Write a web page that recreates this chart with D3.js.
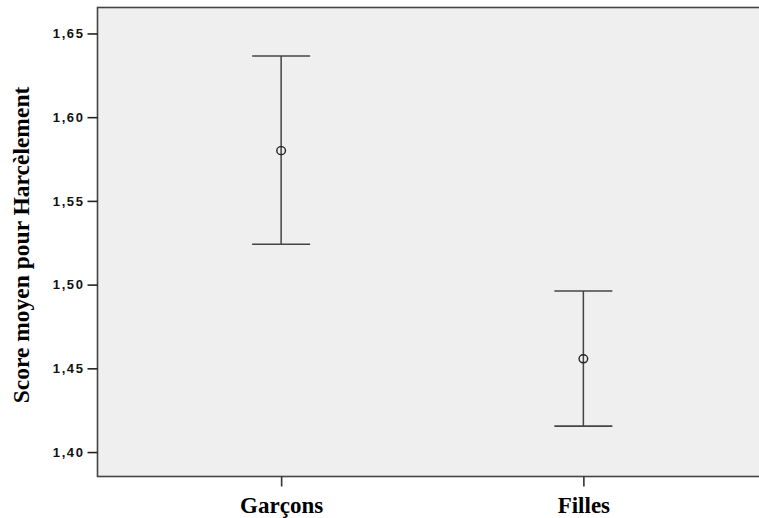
<!DOCTYPE html>
<html>
<head>
<meta charset="utf-8">
<script src="https://cdn.jsdelivr.net/npm/d3@7.9.0/dist/d3.min.js"></script>
<style>
  body { margin: 0; background: #fff; }
  svg { display: block; }
</style>
</head>
<body>
<svg id="chart" width="759" height="518"></svg>
<script>
const groups = ["Garçons", "Filles"];
const means = [1.580, 1.4557];
const lower = [1.5241, 1.4155];
const upper = [1.6365, 1.4962];
const yTicks = [1.40, 1.45, 1.50, 1.55, 1.60, 1.65];
const yTitle = "Score moyen pour Harcèlement";

const width = 759;
const height = 518;
const margin = { top: 7.5, right: -8, bottom: 41.5, left: 97.5 };

const svg = d3.select("#chart");

const x = d3
  .scalePoint()
  .domain(groups)
  .range([margin.left, width - margin.right])
  .padding(0.6076);

const y = d3
  .scaleLinear()
  .domain([1.3854, 1.6655])
  .range([height - margin.bottom, margin.top]);

const rows = groups.map((g, i) => ({
  group: g,
  mean: means[i],
  lo: lower[i],
  hi: upper[i],
}));

// plot background
svg
  .append("rect")
  .attr("x", margin.left)
  .attr("y", margin.top)
  .attr("width", width - margin.right - margin.left)
  .attr("height", height - margin.bottom - margin.top)
  .attr("fill", "#efefef")
  .attr("stroke", "#444")
  .attr("stroke-width", 1.6);

// y axis
const yAxis = svg
  .append("g")
  .attr("transform", `translate(${margin.left},0)`)
  .call(
    d3
      .axisLeft(y)
      .tickValues(yTicks)
      .tickSize(10)
      .tickPadding(3)
      .tickFormat((d) => d3.format(".2f")(d).replace(".", ","))
  );
yAxis.select(".domain").remove();
yAxis.selectAll(".tick line").attr("stroke", "#222").attr("stroke-width", 1.6);
yAxis
  .selectAll(".tick text")
  .attr("fill", "#111")
  .attr("font-family", "Liberation Sans, Arial, sans-serif")
  .attr("font-weight", "bold")
  .attr("font-size", 13)
  .attr("letter-spacing", 1.6);

// x axis
const xAxis = svg
  .append("g")
  .attr("transform", `translate(0,${height - margin.bottom})`)
  .call(d3.axisBottom(x).tickSize(10).tickPadding(10));
xAxis.select(".domain").remove();
xAxis.selectAll(".tick line").attr("stroke", "#333").attr("stroke-width", 1.6);
xAxis
  .selectAll(".tick text")
  .attr("fill", "#000")
  .attr("font-family", "Liberation Serif, Times New Roman, serif")
  .attr("font-weight", "bold")
  .attr("font-size", 23);

// y title
svg
  .append("text")
  .attr("transform", `translate(29,245) rotate(-90)`)
  .attr("text-anchor", "middle")
  .attr("font-family", "Liberation Serif, Times New Roman, serif")
  .attr("font-weight", "bold")
  .attr("font-size", 23.5)
  .attr("fill", "#000")
  .text(yTitle);

// error bars
const capHalf = 29;
const bars = svg.append("g").selectAll("g").data(rows).join("g");

bars
  .append("line")
  .attr("x1", (d) => x(d.group))
  .attr("x2", (d) => x(d.group))
  .attr("y1", (d) => y(d.hi))
  .attr("y2", (d) => y(d.lo))
  .attr("stroke", "#444")
  .attr("stroke-width", 1.5);

bars
  .selectAll(".cap")
  .data((d) => [
    { group: d.group, v: d.hi },
    { group: d.group, v: d.lo },
  ])
  .join("line")
  .attr("class", "cap")
  .attr("x1", (d) => x(d.group) - capHalf)
  .attr("x2", (d) => x(d.group) + capHalf)
  .attr("y1", (d) => y(d.v))
  .attr("y2", (d) => y(d.v))
  .attr("stroke", "#444")
  .attr("stroke-width", 1.6);

bars
  .append("ellipse")
  .attr("cx", (d) => x(d.group))
  .attr("cy", (d) => y(d.mean))
  .attr("rx", 4.3)
  .attr("ry", 4)
  .attr("fill", "none")
  .attr("stroke", "#222")
  .attr("stroke-width", 1.4);
</script>
</body>
</html>
